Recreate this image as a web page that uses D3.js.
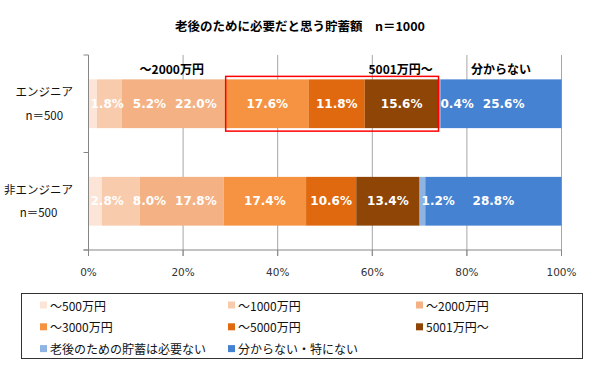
<!DOCTYPE html>
<html>
<head>
<meta charset="utf-8">
<script src="https://cdn.jsdelivr.net/npm/d3@7"></script>
<style>
  body { margin: 0; background: #fff; }
  text { font-family: "Noto Sans CJK JP", "Noto Sans", sans-serif; }
</style>
</head>
<body>
<div id="chart"></div>
<script>
// data
var categories = ["エンジニア", "非エンジニア"];
var sampleSizes = ["n＝500", "n＝500"];
var seriesNames = ["～500万円", "～1000万円", "～2000万円", "～3000万円", "～5000万円", "5001万円～", "老後のための貯蓄は必要ない", "分からない・特にない"];
var engineerValues = [1.8, 5.2, 22.0, 17.6, 11.8, 15.6, 0.4, 25.6];
var nonEngineerValues = [2.8, 8.0, 17.8, 17.4, 10.6, 13.4, 1.2, 28.8];
var xTicks = [0, 20, 40, 60, 80, 100];
var headerLabels = ["～2000万円", "5001万円～", "分からない"];
var headerAt = [17.6, 66, 87.2];   // in % units
var colors = ["#FCE4D6", "#F8CBAD", "#F4B183", "#F59342", "#E0680E", "#8E4506", "#8DB4E2", "#4582D2"];

var width = 600, height = 370;

var svg = d3.select("#chart")
  .append("svg")
    .attr("width", width)
    .attr("height", height);

var rows = categories.map(function(c, i) {
  return {cat: c, values: i == 0 ? engineerValues : nonEngineerValues};
});

var stack = d3.stack()
  .keys(d3.range(seriesNames.length))
  .value(function(d, k) { return d.values[k]; });
var series = stack(rows);

var x = d3.scaleLinear().domain([0, 100]).range([88.5, 561.5]);
var y = d3.scaleBand().domain(categories).range([55, 250])
  .paddingInner(0.5).paddingOuter(0.25);

// title
svg.append("text")
  .attr("x", 300).attr("y", 25)
  .attr("text-anchor", "middle")
  .attr("dominant-baseline", "central")
  .style("font-size", "12.5px")
  .style("font-weight", "bold")
  .text("老後のために必要だと思う貯蓄額\u3000n＝1000");

// gridlines
svg.selectAll("line.grid")
  .data(xTicks.slice(1))
  .enter()
  .append("line")
    .attr("class", "grid")
    .attr("x1", function(d) { return x(d); })
    .attr("x2", function(d) { return x(d); })
    .attr("y1", 55).attr("y2", 256)
    .attr("stroke", "#A6A6A6")
    .attr("stroke-width", 1);

// header labels above the bars
svg.selectAll("text.header")
  .data(headerLabels)
  .enter()
  .append("text")
    .attr("class", "header")
    .attr("x", function(d, i) { return x(headerAt[i]); })
    .attr("y", 68)
    .attr("text-anchor", "middle")
    .attr("dominant-baseline", "central")
    .style("font-size", "12px")
    .style("font-weight", "bold")
    .text(function(d) { return d; });

// bars
var groups = svg.selectAll("g.series")
  .data(series)
  .enter()
  .append("g")
    .attr("class", "series")
    .attr("fill", function(d, i) { return colors[i]; });

groups.selectAll("rect")
  .data(function(d) { return d; })
  .enter()
  .append("rect")
    .attr("x", function(d) { return x(d[0]); })
    .attr("y", function(d) { return y(d.data.cat); })
    .attr("width", function(d) { return x(d[1]) - x(d[0]); })
    .attr("height", y.bandwidth());

// value labels, pushed right where segments are too narrow
rows.forEach(function(row, r) {
  var prevRight = -Infinity;
  series.forEach(function(s, k) {
    var seg = s[r];
    var t = svg.append("text")
      .attr("y", y(row.cat) + y.bandwidth() / 2)
      .attr("dominant-baseline", "central")
      .attr("fill", "#fff")
      .style("font-family", "'DejaVu Sans', sans-serif")
      .style("font-size", "12px")
      .style("font-weight", "bold")
      .text(row.values[k].toFixed(1) + "%");
    var w = t.node().getComputedTextLength();
    var left = (x(seg[0]) + x(seg[1])) / 2 - w / 2;
    left = Math.max(left, x(seg[0]) + 2, prevRight + 9);
    t.attr("x", left);
    prevRight = left + w;
  });
});

// red highlight box around engineer ~3000 .. 5001~
var hl = rows[0].cat;
svg.append("rect")
  .attr("x", x(series[3][0][0]))
  .attr("y", y(hl) - 3)
  .attr("width", x(series[5][0][1]) - x(series[3][0][0]))
  .attr("height", y.bandwidth() + 6)
  .attr("fill", "none")
  .attr("stroke", "#FF0000")
  .attr("stroke-width", 1.5);

// axes
var axisColor = "#868686";
svg.append("line")
  .attr("x1", x(0)).attr("x2", x(0))
  .attr("y1", 55).attr("y2", 256)
  .attr("stroke", axisColor);
svg.append("line")
  .attr("x1", x(0) - 5).attr("x2", x(100))
  .attr("y1", 250).attr("y2", 250)
  .attr("stroke", axisColor);
svg.selectAll("line.ytick")
  .data([55, (55 + 250) / 2, 250])
  .enter()
  .append("line")
    .attr("x1", x(0) - 5).attr("x2", x(0))
    .attr("y1", function(d) { return d; })
    .attr("y2", function(d) { return d; })
    .attr("stroke", axisColor);
svg.selectAll("line.xtick")
  .data(xTicks)
  .enter()
  .append("line")
    .attr("x1", function(d) { return x(d); })
    .attr("x2", function(d) { return x(d); })
    .attr("y1", 250).attr("y2", 256)
    .attr("stroke", axisColor);

svg.selectAll("text.xtick")
  .data(xTicks)
  .enter()
  .append("text")
    .attr("x", function(d) { return x(d); })
    .attr("y", 272)
    .attr("text-anchor", "middle")
    .attr("dominant-baseline", "central")
    .attr("fill", "#333")
    .style("font-family", "'DejaVu Sans', sans-serif")
    .style("font-size", "10.5px")
    .text(function(d) { return d + "%"; });

// category labels (two lines, block right-aligned)
categories.forEach(function(c, i) {
  var cy = y(c) + y.bandwidth() / 2;
  var lines = [c, sampleSizes[i]];
  var texts = lines.map(function(l, j) {
    return svg.append("text")
      .attr("y", cy + (j == 0 ? -12.5 : 11))
      .attr("text-anchor", "middle")
      .attr("dominant-baseline", "central")
      .attr("fill", "#111")
      .style("font-size", "11.5px")
      .text(l);
  });
  var maxW = d3.max(texts, function(t) { return t.node().getComputedTextLength(); });
  texts.forEach(function(t) { t.attr("x", 73 - maxW / 2); });
});

// legend
svg.append("rect")
  .attr("x", 21.5).attr("y", 293.5)
  .attr("width", 561).attr("height", 65)
  .attr("fill", "none")
  .attr("stroke", "#333");

var legend = svg.selectAll("g.legend")
  .data(seriesNames)
  .enter()
  .append("g")
    .attr("class", "legend")
    .attr("transform", function(d, i) {
      return "translate(" + (40 + (i % 3) * 188) + "," + (305 + Math.floor(i / 3) * 21.8) + ")";
    });
legend.append("rect")
  .attr("x", 0).attr("y", -3.5)
  .attr("width", 7).attr("height", 7)
  .attr("fill", function(d, i) { return colors[i]; });
legend.append("text")
  .attr("x", 10).attr("y", 0)
  .attr("dominant-baseline", "central")
  .attr("fill", "#111")
  .style("font-size", "12px")
  .text(function(d) { return d; });
</script>
</body>
</html>
